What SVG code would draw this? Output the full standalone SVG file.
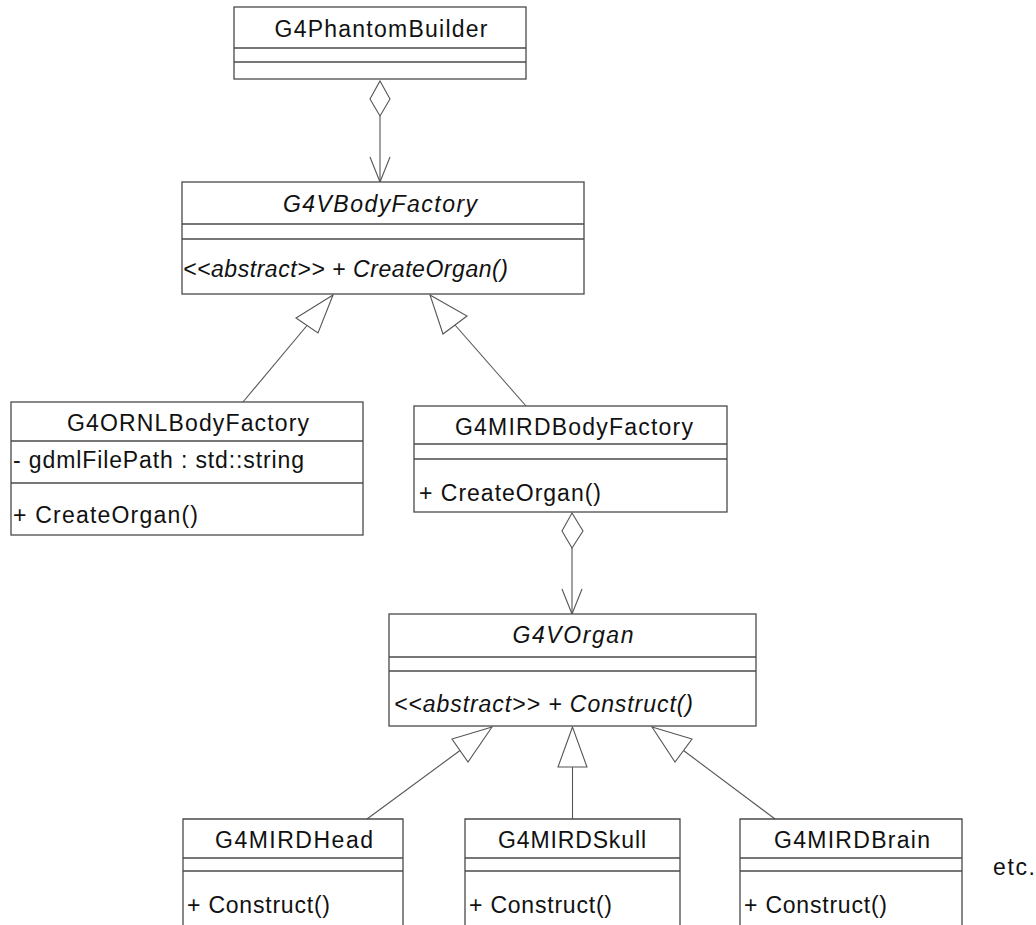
<svg xmlns="http://www.w3.org/2000/svg" width="1036" height="925" viewBox="0 0 1036 925">
<style>
.box{fill:#fff;stroke:#4a4a4a;stroke-width:1.3}
.div{stroke:#4a4a4a;stroke-width:1.3;fill:none}
.t{font-family:"Liberation Sans",Arial,sans-serif;font-size:23px;fill:#111}
.c{text-anchor:middle}
.i{font-style:italic}
.ln{stroke:#555;stroke-width:1.1;fill:none}
.hd{stroke:#555;stroke-width:1.1;fill:#fff}
</style>
<rect width="1036" height="925" fill="#fff"/>
<g id="connectors">
  <line class="ln" x1="380" y1="116" x2="380" y2="182"/>
  <polygon class="hd" points="380,81 390,99 380,116 370,99"/>
  <polyline class="ln" points="370,157 380,182 390,157"/>
  <line class="ln" x1="307" y1="325.5" x2="243" y2="402"/>
  <polygon class="hd" points="333,295 296,318 318,333"/>
  <line class="ln" x1="455" y1="325" x2="526" y2="406"/>
  <polygon class="hd" points="430,295 467,316 443,334"/>
  <line class="ln" x1="572" y1="548" x2="572" y2="614"/>
  <polygon class="hd" points="572,513 583,531 572,548 562,531"/>
  <polyline class="ln" points="562,589 572,614 582,589"/>
  <line class="ln" x1="460" y1="750.5" x2="367" y2="819"/>
  <polygon class="hd" points="492,727 452,739 468,762"/>
  <line class="ln" x1="572.5" y1="767" x2="572.5" y2="819"/>
  <polygon class="hd" points="572.5,727 558,767 587,767"/>
  <line class="ln" x1="683.5" y1="750.5" x2="775" y2="819"/>
  <polygon class="hd" points="652,727 692,739 675,762"/>
</g>
<g id="G4PhantomBuilder">
  <rect class="box" x="234" y="7" width="292" height="72"/>
  <line class="div" x1="234" y1="48" x2="526" y2="48"/>
  <line class="div" x1="234" y1="62" x2="526" y2="62"/>
  <text class="t c" x="381" y="37" textLength="213" lengthAdjust="spacing">G4PhantomBuilder</text>
</g>
<g id="G4VBodyFactory">
  <rect class="box" x="182" y="182" width="402" height="112"/>
  <line class="div" x1="182" y1="224" x2="584" y2="224"/>
  <line class="div" x1="182" y1="239" x2="584" y2="239"/>
  <text class="t c i" x="380" y="212" textLength="194" lengthAdjust="spacing">G4VBodyFactory</text>
  <text class="t i" x="183" y="277" textLength="325" lengthAdjust="spacing">&lt;&lt;abstract&gt;&gt; + CreateOrgan()</text>
</g>
<g id="G4ORNLBodyFactory">
  <rect class="box" x="11" y="402" width="352" height="133"/>
  <line class="div" x1="11" y1="441" x2="363" y2="441"/>
  <line class="div" x1="11" y1="483" x2="363" y2="483"/>
  <text class="t c" x="188" y="431" textLength="242" lengthAdjust="spacing">G4ORNLBodyFactory</text>
  <text class="t" x="13" y="468" textLength="291" lengthAdjust="spacing">- gdmlFilePath : std::string</text>
  <text class="t" x="13" y="523" textLength="185" lengthAdjust="spacing">+ CreateOrgan()</text>
</g>
<g id="G4MIRDBodyFactory">
  <rect class="box" x="414" y="406" width="313" height="106"/>
  <line class="div" x1="414" y1="444" x2="727" y2="444"/>
  <line class="div" x1="414" y1="459" x2="727" y2="459"/>
  <text class="t c" x="574" y="435" textLength="238" lengthAdjust="spacing">G4MIRDBodyFactory</text>
  <text class="t" x="419" y="501" textLength="182" lengthAdjust="spacing">+ CreateOrgan()</text>
</g>
<g id="G4VOrgan">
  <rect class="box" x="389" y="614" width="367" height="112"/>
  <line class="div" x1="389" y1="657" x2="756" y2="657"/>
  <line class="div" x1="389" y1="671" x2="756" y2="671"/>
  <text class="t c i" x="573" y="643" textLength="121" lengthAdjust="spacing">G4VOrgan</text>
  <text class="t i" x="394" y="712" textLength="299" lengthAdjust="spacing">&lt;&lt;abstract&gt;&gt; + Construct()</text>
</g>
<g id="G4MIRDHead">
  <path class="div" d="M183,926 V819 H403 V926"/>
  <line class="div" x1="183" y1="858" x2="403" y2="858"/>
  <line class="div" x1="183" y1="871" x2="403" y2="871"/>
  <text class="t c" x="294" y="848" textLength="158" lengthAdjust="spacing">G4MIRDHead</text>
  <text class="t" x="187" y="913" textLength="143" lengthAdjust="spacing">+ Construct()</text>
</g>
<g id="G4MIRDSkull">
  <path class="div" d="M465,926 V819 H680 V926"/>
  <line class="div" x1="465" y1="858" x2="680" y2="858"/>
  <line class="div" x1="465" y1="871" x2="680" y2="871"/>
  <text class="t c" x="572" y="848" textLength="148" lengthAdjust="spacing">G4MIRDSkull</text>
  <text class="t" x="469" y="913" textLength="143" lengthAdjust="spacing">+ Construct()</text>
</g>
<g id="G4MIRDBrain">
  <path class="div" d="M740,926 V819 H962 V926"/>
  <line class="div" x1="740" y1="858" x2="962" y2="858"/>
  <line class="div" x1="740" y1="871" x2="962" y2="871"/>
  <text class="t c" x="852" y="848" textLength="156" lengthAdjust="spacing">G4MIRDBrain</text>
  <text class="t" x="744" y="913" textLength="143" lengthAdjust="spacing">+ Construct()</text>
</g>
<g id="etc">
  <text class="t" x="993" y="875" textLength="42" lengthAdjust="spacing">etc.</text>
</g>
</svg>
